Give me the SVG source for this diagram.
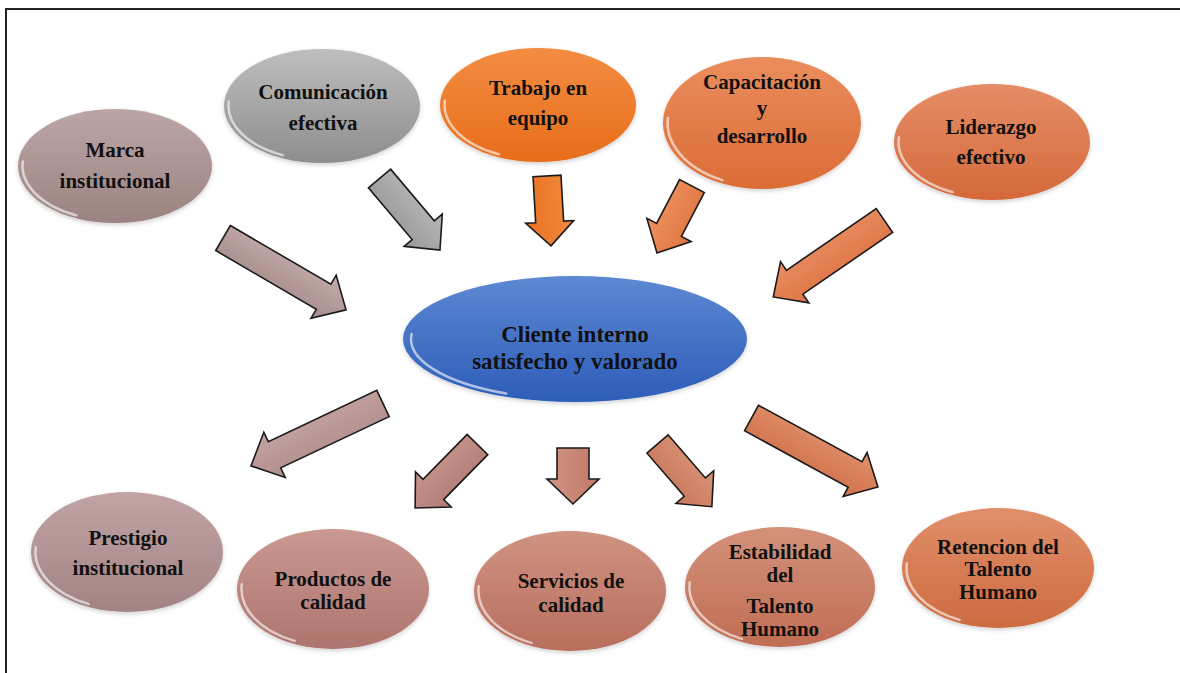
<svg xmlns="http://www.w3.org/2000/svg" xmlns:xlink="http://www.w3.org/1999/xlink" width="1180" height="673" viewBox="0 0 1180 673">
<style>
text{font-family:"Liberation Serif","Times New Roman",serif;font-weight:bold;font-size:21px;fill:#111;text-anchor:middle}
.big{font-size:23px}
.hl{fill:none;stroke:#fff;stroke-width:2.5;stroke-opacity:0.6;stroke-linecap:round}
.arw{stroke:#1a1a1a;stroke-width:1.6;stroke-linejoin:miter}
.frame{stroke:#222;stroke-width:2;fill:none}
</style>
<defs>
<filter id="sh" x="-10%" y="-10%" width="120%" height="130%"><feDropShadow dx="0" dy="2" stdDeviation="2" flood-color="#000" flood-opacity="0.18"/></filter>
<path id="hlp" d="M -0.95 -0.08 A 0.955 0.955 0 0 0 -0.40 0.865" class="hl" vector-effect="non-scaling-stroke"/>
<linearGradient id="gMarca" x1="0" y1="0" x2="0" y2="1"><stop offset="0" stop-color="#BCA6A5"/><stop offset="1" stop-color="#9C8382"/></linearGradient>
<linearGradient id="gCom" x1="0" y1="0" x2="0" y2="1"><stop offset="0" stop-color="#BEBEBE"/><stop offset="1" stop-color="#8E8E8E"/></linearGradient>
<linearGradient id="gTra" x1="0" y1="0" x2="0" y2="1"><stop offset="0" stop-color="#F38D42"/><stop offset="1" stop-color="#E86D1B"/></linearGradient>
<linearGradient id="gCap" x1="0" y1="0" x2="0" y2="1"><stop offset="0" stop-color="#EA8D5E"/><stop offset="1" stop-color="#DB6C35"/></linearGradient>
<linearGradient id="gLid" x1="0" y1="0" x2="0" y2="1"><stop offset="0" stop-color="#E58D67"/><stop offset="1" stop-color="#D5693B"/></linearGradient>
<linearGradient id="gCen" x1="0" y1="0" x2="0" y2="1"><stop offset="0" stop-color="#5D88D3"/><stop offset="1" stop-color="#2D5DB8"/></linearGradient>
<linearGradient id="gPre" x1="0" y1="0" x2="0" y2="1"><stop offset="0" stop-color="#C1A4A4"/><stop offset="1" stop-color="#A28384"/></linearGradient>
<linearGradient id="gPro" x1="0" y1="0" x2="0" y2="1"><stop offset="0" stop-color="#CA9991"/><stop offset="1" stop-color="#AE746E"/></linearGradient>
<linearGradient id="gSer" x1="0" y1="0" x2="0" y2="1"><stop offset="0" stop-color="#CF9382"/><stop offset="1" stop-color="#B96E5D"/></linearGradient>
<linearGradient id="gEst" x1="0" y1="0" x2="0" y2="1"><stop offset="0" stop-color="#D4917A"/><stop offset="1" stop-color="#C06D54"/></linearGradient>
<linearGradient id="gRet" x1="0" y1="0" x2="0" y2="1"><stop offset="0" stop-color="#E08F6B"/><stop offset="1" stop-color="#CE6B41"/></linearGradient>
<linearGradient id="aMarca" x1="0" y1="0" x2="0" y2="1"><stop offset="0" stop-color="#C4ACAA"/><stop offset="1" stop-color="#A68C8A"/></linearGradient>
<linearGradient id="aCom" x1="0" y1="0" x2="0" y2="1"><stop offset="0" stop-color="#B8B8B8"/><stop offset="1" stop-color="#979797"/></linearGradient>
<linearGradient id="aTra" x1="0" y1="0" x2="0" y2="1"><stop offset="0" stop-color="#F08A3E"/><stop offset="1" stop-color="#EA7222"/></linearGradient>
<linearGradient id="aCap" x1="0" y1="0" x2="0" y2="1"><stop offset="0" stop-color="#E0743F"/><stop offset="1" stop-color="#EC9260"/></linearGradient>
<linearGradient id="aLid" x1="0" y1="0" x2="0" y2="1"><stop offset="0" stop-color="#DE7446"/><stop offset="1" stop-color="#E88E62"/></linearGradient>
<linearGradient id="aPre" x1="0" y1="0" x2="0" y2="1"><stop offset="0" stop-color="#B08E8D"/><stop offset="1" stop-color="#C4A3A2"/></linearGradient>
<linearGradient id="aPro" x1="0" y1="0" x2="0" y2="1"><stop offset="0" stop-color="#B07C76"/><stop offset="1" stop-color="#C8958E"/></linearGradient>
<linearGradient id="aSer" x1="0" y1="0" x2="0" y2="1"><stop offset="0" stop-color="#C07866"/><stop offset="1" stop-color="#D29584"/></linearGradient>
<linearGradient id="aEst" x1="0" y1="0" x2="0" y2="1"><stop offset="0" stop-color="#D99478"/><stop offset="1" stop-color="#C8765A"/></linearGradient>
<linearGradient id="aRet" x1="0" y1="0" x2="0" y2="1"><stop offset="0" stop-color="#E0906C"/><stop offset="1" stop-color="#D0714A"/></linearGradient>
</defs>
<rect x="0" y="0" width="1180" height="673" fill="#fff"/>
<path class="frame" d="M 6 673 L 6 9 L 1180 9"/>

<g id="connectors">
<polygon class="arw" fill="url(#aMarca)" transform="translate(223,238) rotate(30.3)" points="0,-14.5 116.5,-14.5 116.5,-25 142.5,0 116.5,25 116.5,14.5 0,14.5"/>
<polygon class="arw" fill="url(#aCom)" transform="translate(379.5,178.5) rotate(49.8)" points="0,-14.5 67.7,-14.5 67.7,-25 93.7,0 67.7,25 67.7,14.5 0,14.5"/>
<polygon class="arw" fill="url(#aTra)" transform="translate(547,176) rotate(86.7)" points="0,-14 46,-14 46,-24 70,0 46,24 46,14 0,14"/>
<polygon class="arw" fill="url(#aCap)" transform="translate(692,186) rotate(117.6)" points="0,-14 49.6,-14 49.6,-25 75.6,0 49.6,25 49.6,14 0,14"/>
<polygon class="arw" fill="url(#aLid)" transform="translate(884.5,220.5) rotate(145.5)" points="0,-14.5 109,-14.5 109,-25 135,0 109,25 109,14.5 0,14.5"/>
<polygon class="arw" fill="url(#aPre)" transform="translate(383,403.5) rotate(154.7)" points="0,-14.5 120,-14.5 120,-25 146,0 120,25 120,14.5 0,14.5"/>
<polygon class="arw" fill="url(#aPro)" transform="translate(477.5,444.5) rotate(134.5)" points="0,-14.5 63,-14.5 63,-25 89,0 63,25 63,14.5 0,14.5"/>
<polygon class="arw" fill="url(#aSer)" transform="translate(573,448) rotate(90)" points="0,-16 31,-16 31,-26 56,0 31,26 31,16 0,16"/>
<polygon class="arw" fill="url(#aEst)" transform="translate(657.5,444) rotate(49.1)" points="0,-14 57,-14 57,-25 83,0 57,25 57,14 0,14"/>
<polygon class="arw" fill="url(#aRet)" transform="translate(751.5,418) rotate(28.6)" points="0,-14.5 118,-14.5 118,-25 144,0 118,25 118,14.5 0,14.5"/>
</g>

<g id="marca">
<ellipse cx="115" cy="166" rx="97" ry="57" fill="url(#gMarca)" filter="url(#sh)"/>
<use href="#hlp" transform="translate(115,166) scale(97,57)"/>
<text x="115" y="157">Marca</text>
<text x="115" y="188">institucional</text>
</g>
<g id="comunicacion">
<ellipse cx="322" cy="106" rx="98" ry="57" fill="url(#gCom)" filter="url(#sh)"/>
<use href="#hlp" transform="translate(322,106) scale(98,57)"/>
<text x="323" y="99">Comunicación</text>
<text x="323" y="130">efectiva</text>
</g>
<g id="trabajo">
<ellipse cx="538" cy="105" rx="98" ry="57" fill="url(#gTra)" filter="url(#sh)"/>
<use href="#hlp" transform="translate(538,105) scale(98,57)"/>
<text x="538" y="95">Trabajo en</text>
<text x="538" y="125">equipo</text>
</g>
<g id="capacitacion">
<ellipse cx="762" cy="123" rx="99" ry="66" fill="url(#gCap)" filter="url(#sh)"/>
<use href="#hlp" transform="translate(762,123) scale(99,66)"/>
<text x="762" y="89">Capacitación</text>
<text x="762" y="115">y</text>
<text x="762" y="143">desarrollo</text>
</g>
<g id="liderazgo">
<ellipse cx="992" cy="142" rx="98" ry="58" fill="url(#gLid)" filter="url(#sh)"/>
<use href="#hlp" transform="translate(992,142) scale(98,58)"/>
<text x="991" y="134">Liderazgo</text>
<text x="991" y="164">efectivo</text>
</g>
<g id="cliente">
<ellipse cx="575" cy="339" rx="172" ry="63" fill="url(#gCen)" filter="url(#sh)"/>
<use href="#hlp" transform="translate(575,339) scale(172,63)"/>
<text class="big" x="575" y="342">Cliente interno</text>
<text class="big" x="575" y="369">satisfecho y valorado</text>
</g>
<g id="prestigio">
<ellipse cx="127" cy="552" rx="96" ry="60" fill="url(#gPre)" filter="url(#sh)"/>
<use href="#hlp" transform="translate(127,552) scale(96,60)"/>
<text x="128" y="545">Prestigio</text>
<text x="128" y="575">institucional</text>
</g>
<g id="productos">
<ellipse cx="333" cy="589" rx="96" ry="60" fill="url(#gPro)" filter="url(#sh)"/>
<use href="#hlp" transform="translate(333,589) scale(96,60)"/>
<text x="333" y="586">Productos de</text>
<text x="333" y="609">calidad</text>
</g>
<g id="servicios">
<ellipse cx="570" cy="591" rx="96" ry="60" fill="url(#gSer)" filter="url(#sh)"/>
<use href="#hlp" transform="translate(570,591) scale(96,60)"/>
<text x="571" y="588">Servicios de</text>
<text x="571" y="612">calidad</text>
</g>
<g id="estabilidad">
<ellipse cx="780" cy="587" rx="95" ry="60" fill="url(#gEst)" filter="url(#sh)"/>
<use href="#hlp" transform="translate(780,587) scale(95,60)"/>
<text x="780" y="559">Estabilidad</text>
<text x="780" y="582">del</text>
<text x="780" y="613">Talento</text>
<text x="780" y="636">Humano</text>
</g>
<g id="retencion">
<ellipse cx="998" cy="568" rx="96" ry="60" fill="url(#gRet)" filter="url(#sh)"/>
<use href="#hlp" transform="translate(998,568) scale(96,60)"/>
<text x="998" y="554">Retencion del</text>
<text x="998" y="576">Talento</text>
<text x="998" y="599">Humano</text>
</g>
</svg>
